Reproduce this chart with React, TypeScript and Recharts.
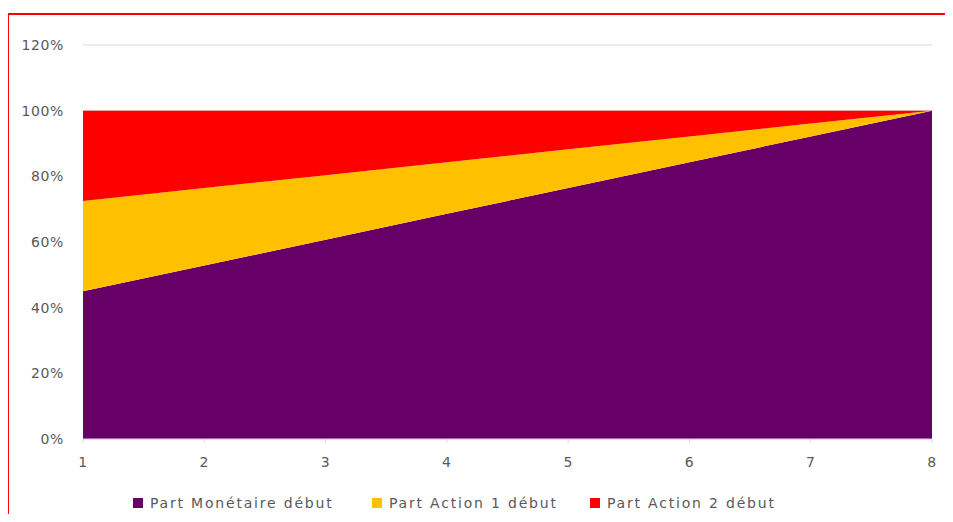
import { AreaChart, Area, XAxis, YAxis, CartesianGrid } from "recharts"

const periods = [1, 2, 3, 4, 5, 6, 7, 8]
const partMonetaire = [45, 52.86, 60.71, 68.57, 76.43, 84.29, 92.14, 100]
const partAction1 = [27.5, 23.57, 19.64, 15.71, 11.79, 7.86, 3.93, 0]
const partAction2 = [27.5, 23.57, 19.64, 15.71, 11.79, 7.86, 3.93, 0]
const yTicks = [0, 20, 40, 60, 80, 100, 120]

const series = [
  { key: "monetaire", name: "Part Monétaire début", color: "#660066", left: 133 },
  { key: "action1", name: "Part Action 1 début", color: "#FFC000", left: 372 },
  { key: "action2", name: "Part Action 2 début", color: "#FF0000", left: 590 },
]

const data = periods.map((p, i) => ({
  period: p,
  monetaire: partMonetaire[i],
  action1: partAction1[i],
  action2: partAction2[i],
}))

const font = "'DejaVu Sans', sans-serif"
const tickStyle = { fontSize: 14, fill: "#595959", fontFamily: font, letterSpacing: 0.6 }

export default function App() {
  return (
    <div style={{ position: "relative", width: 953, height: 522, margin: -8, background: "#fff", overflow: "hidden" }}>
      <div
        style={{
          position: "absolute",
          left: 7,
          top: 13,
          width: 960,
          height: 520,
          borderTop: "2px solid #FF0000",
          borderLeft: "2px solid #FF0000",
        }}
      />
      <AreaChart
        width={953}
        height={522}
        data={data}
        margin={{ top: 45, right: 21, left: 23, bottom: 53 }}
        style={{ position: "absolute", left: 0, top: 0 }}
      >
        <CartesianGrid vertical={false} stroke="#d9d9d9" />
        <XAxis
          dataKey="period"
          type="number"
          domain={[1, 8]}
          ticks={periods}
          stroke="#d9d9d9"
          tickSize={4}
          tickMargin={14}
          tick={tickStyle}
          height={30}
        />
        <YAxis
          domain={[0, 120]}
          ticks={yTicks}
          tickFormatter={(v) => `${v}%`}
          axisLine={false}
          tickLine={false}
          tickSize={0}
          tickMargin={19}
          tick={tickStyle}
          width={60}
        />
        {series.map((s) => (
          <Area
            key={s.key}
            type="linear"
            dataKey={s.key}
            name={s.name}
            stackId="1"
            stroke="none"
            fill={s.color}
            fillOpacity={1}
            isAnimationActive={false}
          />
        ))}
      </AreaChart>
      {series.map((s) => (
        <div
          key={s.key}
          style={{
            position: "absolute",
            top: 494,
            left: s.left,
            height: 18,
            display: "flex",
            alignItems: "center",
            fontFamily: font,
            fontSize: 14,
            letterSpacing: 1.8,
            color: "#595959",
            whiteSpace: "nowrap",
          }}
        >
          <span style={{ display: "inline-block", width: 10, height: 10, background: s.color, marginRight: 7 }} />
          {s.name}
        </div>
      ))}
    </div>
  )
}
